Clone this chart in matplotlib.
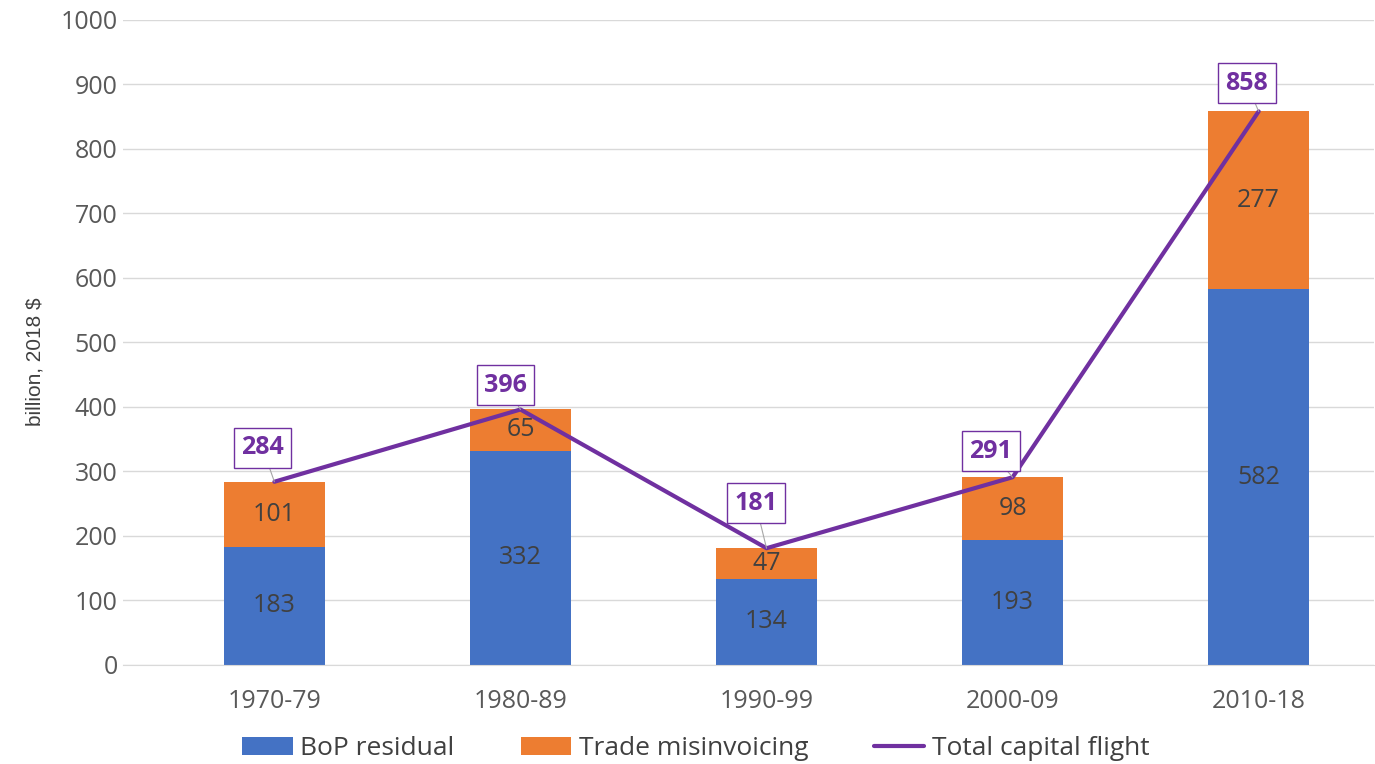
import matplotlib.pyplot as plt
import numpy as np

periods = ["1970-79", "1980-89", "1990-99", "2000-09", "2010-18"]
bop_residual = [183, 332, 134, 193, 582]
trade_misinvoicing = [101, 65, 47, 98, 277]
total_flight = [284, 396, 181, 291, 858]

BLUE = "#4472C4"
ORANGE = "#ED7D31"
PURPLE = "#7030A0"
TEXT = "#404040"

plt.rcParams["font.family"] = ["Open Sans", "DejaVu Sans"]

fig = plt.figure(figsize=(13.75, 7.64), dpi=100)
ax = fig.add_axes([0.0895, 0.1296, 0.91, 0.8445])

x = np.arange(len(periods))
w = 0.41
b1 = ax.bar(x, bop_residual, w, color=BLUE, label="BoP residual", zorder=2)
b2 = ax.bar(x, trade_misinvoicing, w, bottom=bop_residual, color=ORANGE,
            label="Trade misinvoicing", zorder=2)
ax.bar_label(b1, label_type="center", color=TEXT, fontsize=18)
ax.bar_label(b2, label_type="center", color=TEXT, fontsize=18)

line, = ax.plot(x, total_flight, color=PURPLE, lw=3, label="Total capital flight",
                zorder=3, solid_capstyle="round")

# boxed totals, offset in pixels from each vertex to the box centre
offsets = [(-12, 34), (-15, 24), (-11, 45), (-22, 26), (-12, 28)]
for xi, v, off in zip(x, total_flight, offsets):
    ax.annotate(str(v), (xi, v), xytext=off, textcoords="offset pixels",
                ha="center", va="center",
                color=PURPLE, fontsize=18, fontweight="bold", zorder=4,
                bbox=dict(boxstyle="square,pad=0.3", fc="white", ec=PURPLE, lw=1),
                arrowprops=dict(arrowstyle="-", color="#A6A6A6", lw=0.8,
                                shrinkA=0, shrinkB=0))

ax.set_ylim(0, 1000)
ax.set_xlim(-0.615, 4.47)
ax.set_yticks(np.arange(0, 1001, 100))
ax.set_xticks(x, periods)
ax.grid(axis="y", color="#D9D9D9", lw=1, zorder=0)
for s in ["top", "right", "left"]:
    ax.spines[s].set_visible(False)
ax.spines["bottom"].set_color("#D9D9D9")
ax.tick_params(axis="both", length=0, labelsize=18, labelcolor="#595959")
ax.tick_params(axis="y", pad=4)
ax.tick_params(axis="x", pad=17)
ax.set_ylabel("billion, 2018 $", fontsize=15, color="#404040",
              family=["Liberation Sans", "DejaVu Sans"])
ax.yaxis.set_label_coords(-0.063, 0.47)

ax.legend(handles=[b1, b2, line], loc="center", bbox_to_anchor=(0.458, -0.13),
          ncol=3, frameon=False, fontsize=19, handlelength=1.9,
          columnspacing=2.5, handletextpad=0.3, labelcolor="#404040")

fig.savefig("out.png", dpi=100)
